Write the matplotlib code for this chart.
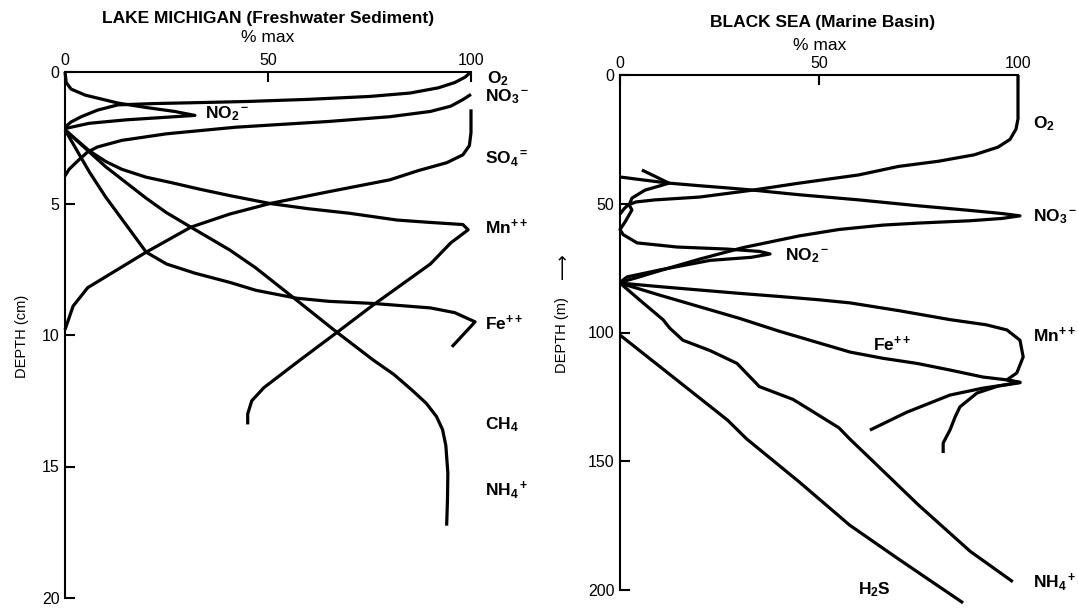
import matplotlib.pyplot as plt
import numpy as np

plt.rcParams['font.family'] = ['Liberation Sans', 'DejaVu Sans']
plt.rcParams['font.size'] = 11
plt.rcParams['mathtext.fontset'] = 'custom'
plt.rcParams['mathtext.rm'] = 'Liberation Sans:bold'
plt.rcParams['mathtext.it'] = 'Liberation Sans:bold'
plt.rcParams['mathtext.bf'] = 'Liberation Sans:bold'
plt.rcParams['mathtext.default'] = 'rm'

# ---- Lake Michigan (% max, depth cm) ----
lm_o2_x = [100, 98.5, 96, 92, 85, 75, 60, 45, 34, 22, 13, 8, 4, 1.5, 0]
lm_o2_y = [0, 0.2, 0.4, 0.6, 0.8, 0.93, 1.04, 1.12, 1.16, 1.2, 1.25, 1.45, 1.7, 1.9, 2.1]
lm_no2_x = [0, 0.3, 1.5, 5, 13, 20, 27, 32, 25, 15, 6, 0]
lm_no2_y = [0, 0.4, 0.65, 0.88, 1.18, 1.35, 1.5, 1.65, 1.72, 1.82, 1.95, 2.15]
lm_no3_x = [100, 98, 95, 90, 80, 65, 42, 25, 14, 8, 5.5, 3, 1, 0]
lm_no3_y = [0.85, 1.05, 1.3, 1.5, 1.7, 1.88, 2.1, 2.35, 2.6, 2.85, 3.05, 3.4, 3.7, 3.95]
lm_so4_x = [100, 100, 99.6, 98, 94, 87, 80, 65, 50.5, 40.6, 31, 20, 12, 5.6, 2, 0]
lm_so4_y = [1.42, 2.3, 2.8, 3.15, 3.45, 3.75, 4.1, 4.55, 5.0, 5.4, 5.9, 6.85, 7.6, 8.2, 8.9, 9.8]
lm_mn_x = [0, 3, 6, 10, 14, 20, 26, 33, 40.6, 50.5, 60, 70, 81.8, 90, 98, 99.3,
           95, 90, 75.9, 67, 57.9, 49, 46, 45, 45]
lm_mn_y = [2.2, 2.6, 3.0, 3.4, 3.7, 4.0, 4.2, 4.45, 4.7, 5.0, 5.2, 5.37, 5.63, 5.72, 5.8, 6.0,
           6.5, 7.3, 8.86, 9.9, 10.95, 12.0, 12.5, 13.0, 13.4]
lm_fe_x = [0, 3, 6, 10, 15, 20, 25, 32, 40.6, 47, 57, 65, 75.9, 90, 96, 101, 98, 95.3]
lm_fe_y = [2.2, 3.0, 3.8, 4.75, 5.8, 6.85, 7.3, 7.65, 8.0, 8.3, 8.6, 8.72, 8.8, 8.97, 9.15, 9.5, 10.0, 10.45]
lm_nh4_x = [0, 5, 10, 15, 20, 25, 31, 40.6, 47, 57, 67, 75.9, 81, 85.5, 89, 91.5, 93, 93.8, 94.3, 94.2, 94]
lm_nh4_y = [2.2, 2.9, 3.6, 4.2, 4.8, 5.35, 5.9, 6.77, 7.45, 8.67, 9.9, 10.95, 11.5, 12.1, 12.6, 13.1,
            13.6, 14.2, 15.25, 16.3, 17.25]

# ---- Black Sea (% max, depth m) ----
bs_o2_x = [100, 100, 99.5, 98, 95, 89, 80, 70, 60, 45, 33.4, 20, 8.8, 4, 2, 1, 0]
bs_o2_y = [0, 17, 21, 25, 28, 31, 33.5, 35.5, 38.8, 42, 44.7, 47.4, 48.5, 49.3, 50.5, 52, 54]
bs_no3_x = [0, 6, 12.3, 20, 27.4, 33.4, 45, 60, 75, 88, 96, 100.5, 96, 88, 75, 66, 55, 45, 31, 20, 10, 4, 0]
bs_no3_y = [39.6, 40.8, 42, 43, 43.9, 44.7, 46.5, 48.5, 50.8, 52.6, 53.8, 54.7, 55.7, 56.6, 57.5,
            58.3, 60, 62.5, 67, 71.5, 76, 78.8, 80.5]
bs_no2_x = [5.5, 9, 12.3, 9, 6.3, 3, 2.3, 3, 1.3, 0, 0.8, 4.3, 14.3, 26.9, 35, 37.7, 33, 22.6, 10, 1.8, 0]
bs_no2_y = [36.9, 39.5, 42, 43.5, 44.7, 47.8, 50.5, 52.4, 57, 60, 62, 65.2, 66.8, 67.6, 68.5, 69.5,
            70.8, 72, 75.7, 78.4, 80.5]
bs_mn_x = [0, 10, 20, 30, 40, 50, 57.8, 70, 82.9, 92, 97.2, 100.5, 101.3, 99.7, 97.2, 100.5,
           95, 89.7, 85.4, 84.2, 82.9, 81.2, 81.2]
bs_mn_y = [80.8, 82.2, 83.5, 84.8, 86, 87.3, 88.5, 91.5, 95, 97, 99, 103, 109.5, 115.7, 118.4, 119.5,
           120.8, 123.5, 128.9, 132.8, 137.9, 142.9, 146.8]
bs_fe_x = [0, 10, 20, 30, 40, 47.7, 57.8, 66, 74.6, 83, 91.2, 97.2, 100.5, 96, 91.2, 82.9, 72, 62.8]
bs_fe_y = [80.8, 85.5, 90, 94.5, 99.5, 103, 107.6, 110, 112, 114.6, 117.3, 118.4, 119.3, 120.5,
           121.6, 124.3, 131, 137.9]
bs_nh4_x = [0, 5.8, 10.8, 12.5, 15.8, 22.6, 29.4, 35, 43.5, 47.7, 55, 57.7, 62.9, 75, 88, 98.7]
bs_nh4_y = [80.8, 88.5, 95, 98.3, 103, 107, 112, 121, 126, 130, 137, 141.3, 149, 167, 185, 196.8]
bs_h2s_x = [0, 27, 31.8, 45, 57.7, 70, 86.2]
bs_h2s_y = [101, 134, 141.3, 158, 174.8, 188, 205]

W, H = 1078, 609
fig = plt.figure(figsize=(W / 100, H / 100), dpi=100)


def px(x0, y0, x1, y1):
    return [x0 / W, 1 - y1 / H, (x1 - x0) / W, (y1 - y0) / H]


def style_axis(ax, ymax, yticks):
    ax.set_xlim(0, 100)
    ax.set_ylim(ymax, 0)
    ax.xaxis.tick_top()
    ax.set_xticks([0, 50, 100])
    ax.set_yticks(yticks)
    ax.spines['right'].set_visible(False)
    ax.spines['bottom'].set_visible(False)
    for s in ['left', 'top']:
        ax.spines[s].set_linewidth(1.5)
    ax.tick_params(direction='in', length=7, width=1.5, labelsize=11.5, pad=4)
    ax.tick_params(axis='x', pad=3)


lw = 2.3
ax1 = fig.add_axes(px(65, 72, 471, 598))
style_axis(ax1, 20, [0, 5, 10, 15, 20])
for xs, ys in [(lm_o2_x, lm_o2_y), (lm_no2_x, lm_no2_y), (lm_no3_x, lm_no3_y),
               (lm_so4_x, lm_so4_y), (lm_mn_x, lm_mn_y), (lm_fe_x, lm_fe_y),
               (lm_nh4_x, lm_nh4_y)]:
    ax1.plot(xs, ys, color='black', lw=lw, clip_on=False, solid_capstyle='butt')

lab = dict(fontsize=12.5, fontweight='bold', va='center', ha='left')
ax1.text(104, 0.25, r'O$_2$', **lab)
ax1.text(103.4, 0.95, r'NO$_3{}^-$', **lab)
ax1.text(34.5, 1.6, r'NO$_2{}^-$', **lab)
ax1.text(103.4, 3.3, r'SO$_4{}^=$', **lab)
ax1.text(103.4, 5.9, r'Mn$^{++}$', **lab)
ax1.text(103.4, 9.55, r'Fe$^{++}$', **lab)
ax1.text(103.4, 13.4, r'CH$_4$', **lab)
ax1.text(103.4, 15.9, r'NH$_4{}^+$', **lab)

ax2 = fig.add_axes(px(620, 75, 1018, 590))
style_axis(ax2, 200, [0, 50, 100, 150, 200])
for xs, ys in [(bs_o2_x, bs_o2_y), (bs_no3_x, bs_no3_y), (bs_no2_x, bs_no2_y),
               (bs_mn_x, bs_mn_y), (bs_fe_x, bs_fe_y), (bs_nh4_x, bs_nh4_y),
               (bs_h2s_x, bs_h2s_y)]:
    ax2.plot(xs, ys, color='black', lw=lw, clip_on=False, solid_capstyle='butt')

ax2.text(103.8, 19, r'O$_2$', **lab)
ax2.text(103.8, 55, r'NO$_3{}^-$', **lab)
ax2.text(41.5, 70, r'NO$_2{}^-$', **lab)
ax2.text(103.8, 101, r'Mn$^{++}$', **lab)
ax2.text(63.6, 104.5, r'Fe$^{++}$', **lab)
ax2.text(103.8, 197, r'NH$_4{}^+$', **lab)
ax2.text(59.8, 200, r'H$_2$S', **lab)

fig.text(268 / W, 1 - 18 / H, 'LAKE MICHIGAN (Freshwater Sediment)', ha='center', va='center',
         fontsize=12.5, fontweight='bold')
fig.text(268 / W, 1 - 38 / H, '% max', ha='center', va='center', fontsize=12.5)
fig.text(823 / W, 1 - 23 / H, 'BLACK SEA (Marine Basin)', ha='center', va='center',
         fontsize=12.5, fontweight='bold')
fig.text(820 / W, 1 - 45 / H, '% max', ha='center', va='center', fontsize=12.5)
fig.text(22 / W, 1 - 336 / H, 'DEPTH (cm)', rotation=90, ha='center', va='center', fontsize=10.5)
fig.text(562 / W, 1 - 335 / H, 'DEPTH (m)', rotation=90, ha='center', va='center', fontsize=10.5)
fig.text(563 / W, 1 - 266 / H, '\u27f6', rotation=90, ha='center', va='center', fontsize=13,
         family=['DejaVu Sans'])

plt.savefig('out.png', dpi=100)
